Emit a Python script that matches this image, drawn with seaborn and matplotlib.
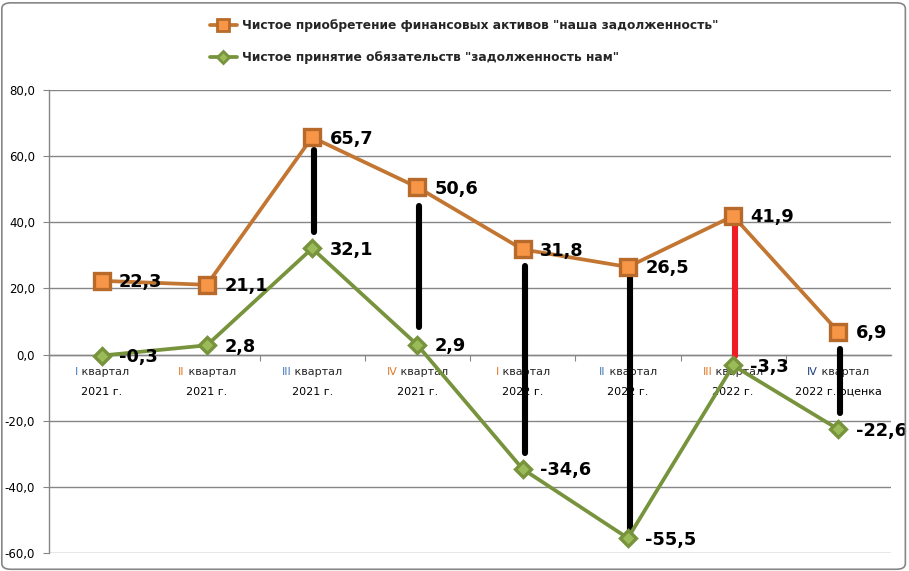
import matplotlib
matplotlib.use("Agg")
import matplotlib.pyplot as plt
import seaborn as sns
import pandas as pd
import numpy as np
from matplotlib.lines import Line2D
from matplotlib.offsetbox import TextArea, HPacker, VPacker, AnnotationBbox
from matplotlib.patches import FancyBboxPatch

# ---- data ----
quarters = ["I", "II", "III", "IV", "I", "II", "III", "IV"]
years = ["2021 г.", "2021 г.", "2021 г.", "2021 г.", "2022 г.", "2022 г.", "2022 г.", "2022 г. оценка"]
numeral_colors = ["#4a7ebb", "#e07b2a", "#4a7ebb", "#e07b2a", "#e07b2a", "#4a7ebb", "#e07b2a", "#1f3f7a"]
assets = [22.3, 21.1, 65.7, 50.6, 31.8, 26.5, 41.9, 6.9]
liabilities = [-0.3, 2.8, 32.1, 2.9, -34.6, -55.5, -3.3, -22.6]
gap_idx = [2, 3, 4, 5, 6, 7]
gap_top = [61.8, 44.9, 26.8, 24.0, 39.1, 1.7]
gap_bottom = [37.0, 8.3, -29.7, -53.9, -0.4, -17.6]
gap_colors = ["black", "black", "black", "black", "#ee1c25", "black"]
name_assets = 'Чистое приобретение финансовых активов "наша задолженность"'
name_liab = 'Чистое принятие обязательств "задолженность нам"'
yticks = [-60, -40, -20, 0, 20, 40, 60, 80]

sns.set_style("white")
plt.rcParams["font.family"] = ["DejaVu Sans"]

fig = plt.figure(figsize=(9.09, 5.71), dpi=100)
ax = fig.add_axes([49 / 909, 1 - 553 / 571, 842 / 909, 463 / 571])

pos = list(range(len(quarters)))
df = pd.DataFrame({"pos": pos, "assets": assets, "liab": liabilities})

orange_line = "#c27632"
orange_face = "#f79646"
orange_edge = "#b86a2a"
green_line = "#77933c"
green_face = "#9bbb59"

# gap connectors
ax.vlines([p + 0.02 for p in gap_idx], gap_bottom, gap_top, colors=gap_colors,
          linewidth=4.4, capstyle="round", zorder=4)

sns.lineplot(data=df, x="pos", y="assets", ax=ax, color=orange_line, linewidth=2.7,
             marker="s", markersize=11, markerfacecolor=orange_face,
             markeredgecolor=orange_edge, markeredgewidth=2.4, zorder=5)
sns.lineplot(data=df, x="pos", y="liab", ax=ax, color=green_line, linewidth=2.7,
             marker="D", markersize=8, markerfacecolor=green_face,
             markeredgecolor=green_line, markeredgewidth=2.4, zorder=5)

def fmt(v):
    return f"{v:.1f}".replace(".", ",")

for p, v in zip(pos, assets):
    ax.annotate(fmt(v), xy=(p, v), xytext=(12.5, -1), textcoords="offset points",
                ha="left", va="center", fontsize=12.8, fontweight="bold",
                color="black", zorder=7)
for p, v in zip(pos, liabilities):
    ax.annotate(fmt(v), xy=(p, v), xytext=(12.5, -1), textcoords="offset points",
                ha="left", va="center", fontsize=12.8, fontweight="bold",
                color="black", zorder=7)

# axes styling
ax.set_xlim(-0.5, 7.5)
ax.set_ylim(-60, 80)
ax.set_yticks(yticks)
ax.set_yticklabels([f"{t:.1f}".replace(".", ",") for t in yticks], fontsize=8.5, color="black")
ax.set_xticks([p + 0.5 for p in pos[:-1]] + [-0.5])
ax.set_xticklabels([])
ax.set_xlabel("")
ax.set_ylabel("")
ax.grid(axis="y", color="#868686", linewidth=1.0)
ax.grid(axis="x", visible=False)
ax.set_axisbelow(True)
for s in ["top", "right"]:
    ax.spines[s].set_visible(False)
ax.spines["left"].set_color("#868686")
ax.spines["left"].set_linewidth(1.0)
ax.spines["bottom"].set_position(("data", 0))
ax.spines["bottom"].set_color("#868686")
ax.spines["bottom"].set_linewidth(1.0)
ax.tick_params(axis="y", length=4, color="#868686", direction="out", pad=6, left=True)
ax.tick_params(axis="x", length=4, color="#868686", direction="out", bottom=True)

# category labels (coloured Roman numerals)
for p, q, y, c in zip(pos, quarters, years, numeral_colors):
    t1 = TextArea(q, textprops=dict(color=c, fontsize=8))
    t2 = TextArea(" квартал", textprops=dict(color="#262626", fontsize=8))
    line1 = HPacker(children=[t1, t2], pad=0, sep=0, align="baseline")
    line2 = TextArea(y, textprops=dict(color="black", fontsize=8))
    box = VPacker(children=[line1, line2], pad=0, sep=7, align="center")
    ab = AnnotationBbox(box, (p, 0), xybox=(0, -9), xycoords="data",
                        boxcoords="offset points", box_alignment=(0.5, 1.0),
                        frameon=False, zorder=3)
    ax.add_artist(ab)

# legend
handles = [
    Line2D([], [], color=orange_line, linewidth=2.7, marker="s", markersize=8,
           markerfacecolor=orange_face, markeredgecolor=orange_edge, markeredgewidth=2),
    Line2D([], [], color=green_line, linewidth=2.7, marker="D", markersize=6,
           markerfacecolor=green_face, markeredgecolor=green_line, markeredgewidth=2),
]
fig.legend(handles, [name_assets, name_liab], loc="upper left",
           bbox_to_anchor=(199 / 909, 1 - 8 / 571), frameon=False,
           prop=dict(size=8.8, weight="bold"), labelspacing=1.55,
           handlelength=2.2, handletextpad=0.4)

# outer border
fig.patches.append(FancyBboxPatch((0.002, 0.003), 0.994, 0.992, boxstyle="round,pad=0,rounding_size=0.01",
                                  transform=fig.transFigure, fill=False,
                                  edgecolor="#868686", linewidth=1.2))

fig.savefig("out.png", dpi=100)
